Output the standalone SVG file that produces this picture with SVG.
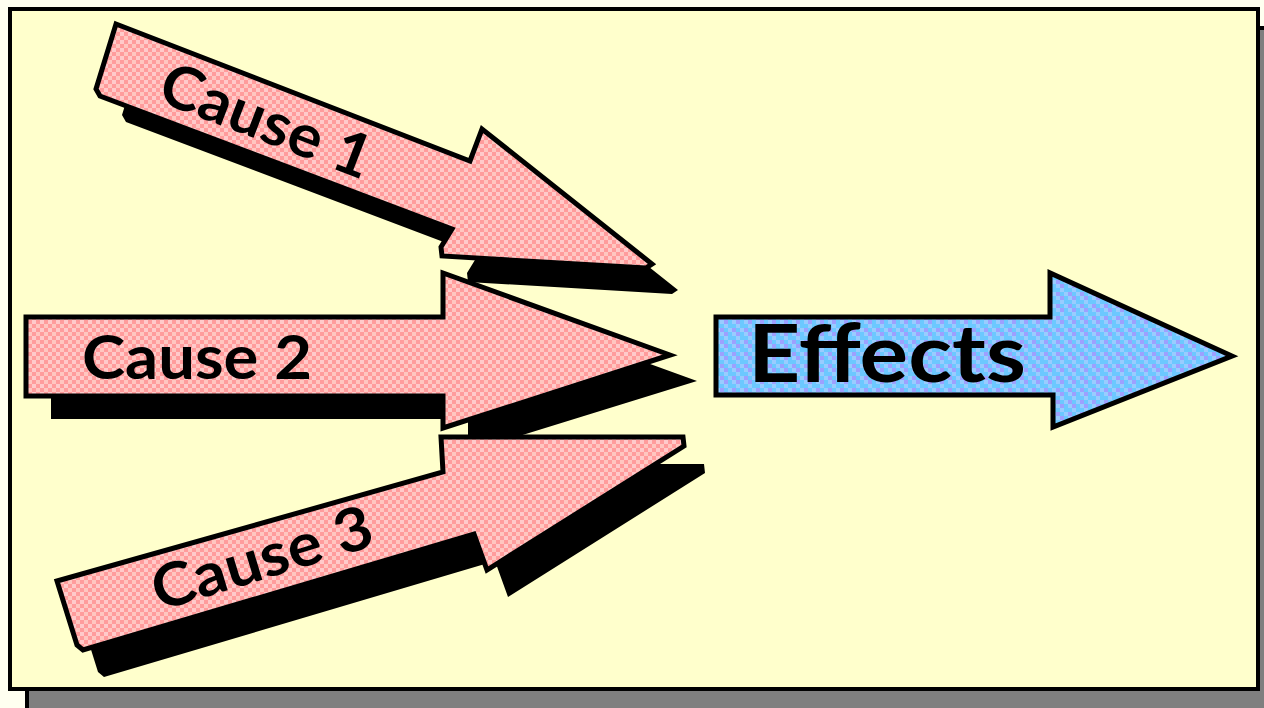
<svg xmlns="http://www.w3.org/2000/svg" width="1264" height="708" viewBox="0 0 1264 708">
<defs>
<pattern id="pink" width="8" height="8" patternUnits="userSpaceOnUse">
<rect width="8" height="8" fill="#FF9C9C"/>
<rect width="4" height="4" fill="#FFCACA"/>
<rect x="4" y="4" width="4" height="4" fill="#FFC6C0"/>
</pattern>
<pattern id="blue" width="12" height="12" patternUnits="userSpaceOnUse">
<rect width="12" height="12" fill="#6CC8FF"/>
<rect x="4" y="0" width="4" height="4" fill="#99CCFF"/>
<rect x="0" y="4" width="4" height="4" fill="#9DA0FF"/>
<rect x="8" y="4" width="4" height="4" fill="#99CCFF"/>
<rect x="4" y="8" width="4" height="4" fill="#9DA0FF"/>
<rect x="0" y="8" width="4" height="4" fill="#99CCFF"/>
</pattern>
<style>
.arrow{fill:url(#pink);stroke:#000;stroke-width:5;stroke-linejoin:miter}
.eff{fill:url(#blue);stroke:#000;stroke-width:5;stroke-linejoin:miter}
.shadow{fill:#000}
.lbl{font-family:Lato,"DejaVu Sans",sans-serif;font-weight:700;fill:#000}
</style>
</defs>
<rect width="1264" height="708" fill="#FFFFF0"/>
<rect x="27" y="28" width="1250" height="690" fill="#7F7F7F" stroke="#000" stroke-width="4"/>
<rect x="10" y="9" width="1248" height="680" fill="#FFFFCC" stroke="#000" stroke-width="4"/>
<g id="connectors"/>
<g id="cause1">
<polygon class="shadow" points="142,50 496,187 508,155 678,290 672,294 468,282 467,273 478,255 126,122 122,115"/>
<polygon class="arrow" points="116,24 470,161 482,129 652,264 646,268 442,256 441,247 452,229 100,96 96,89"/>
<text class="lbl" font-size="60" text-anchor="middle" textLength="222" lengthAdjust="spacingAndGlyphs" transform="translate(259,140) rotate(21)">Cause 1</text>
</g>
<g id="cause2">
<polygon class="shadow" points="51,341 468,341 468,298 697,381 468,452 468,419 51,419"/>
<polygon class="arrow" points="26,317 443,317 443,273 670,355 443,428 443,396 26,396"/>
<text class="lbl" x="197" y="379" font-size="62" text-anchor="middle" textLength="230" lengthAdjust="spacingAndGlyphs">Cause 2</text>
</g>
<g id="cause3">
<polygon class="shadow" points="78,608 464,499 462,464 704,464 705,473 508,597 495,561 104,677 98,672"/>
<polygon class="arrow" points="57,581 443,472 441,437 683,437 684,446 487,570 474,534 83,650 77,645"/>
<text class="lbl" font-size="60" text-anchor="middle" textLength="228" lengthAdjust="spacingAndGlyphs" transform="translate(268,578) rotate(-17)">Cause 3</text>
</g>
<g id="effects">
<polygon class="eff" points="716,317 1050,317 1050,273 1232,356 1053,427 1053,395 716,395"/>
<text class="lbl" x="887" y="382" font-size="80" text-anchor="middle" textLength="278" lengthAdjust="spacingAndGlyphs">Effects</text>
</g>
</svg>
